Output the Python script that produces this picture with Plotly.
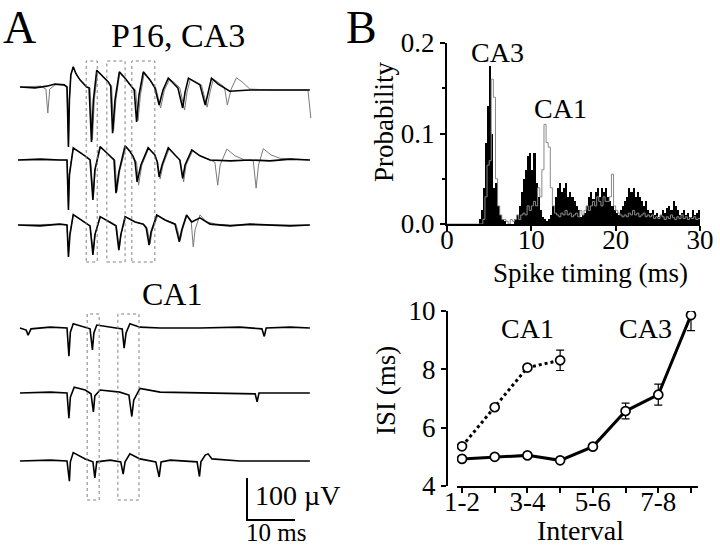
import plotly.graph_objects as go

W, H = 720, 546
FONT = "Liberation Serif"

# ---------------- Panel B (top): spike timing histogram ----------------
BIN_WIDTH_MS = 0.25
CA3_PROB = [
    0, 0, 0, 0,  0, 0, 0, 0,  0, 0, 0, 0,  0, 0, 0, 0.005,
    0.015, 0.04, 0.09, 0.13,  0.175, 0.10, 0.04, 0.045,  0.02, 0.01, 0.005, 0.003,  0, 0, 0, 0,
    0.005, 0.01, 0.02, 0.035,  0.05, 0.06, 0.075, 0.078,  0.06, 0.078, 0.045, 0.03,  0.015, 0.008, 0.005, 0.003,
    0.005, 0.01, 0.02, 0.03,  0.04, 0.045, 0.035, 0.04,  0.045, 0.03, 0.035, 0.03,  0.025, 0.02, 0.015, 0.008,
    0.01, 0.012, 0.02, 0.03,  0.035, 0.028, 0.035, 0.04,  0.03, 0.04, 0.035, 0.04,  0.03, 0.025, 0.02, 0.015,
    0.012, 0.01, 0.015, 0.02,  0.025, 0.03, 0.04, 0.035,  0.04, 0.03, 0.035, 0.03,  0.025, 0.02, 0.025, 0.015,
    0.012, 0.015, 0.01, 0.012,  0.008, 0.01, 0.015, 0.012,  0.018, 0.02, 0.015, 0.025,  0.02, 0.015, 0.01, 0.012,
    0.015, 0.01, 0.012, 0.008,  0.015, 0.01, 0.012, 0.015,
]
CA1_PROB = [
    0, 0, 0, 0,  0, 0, 0, 0,  0, 0, 0, 0,  0, 0, 0, 0,
    0, 0.005, 0.03, 0.065,  0.07, 0.16, 0.14, 0.05,  0.02, 0.01, 0.005, 0.005,  0.003, 0, 0.005, 0.003,
    0.005, 0.01, 0.005, 0.01,  0.012, 0.01, 0.02, 0.015,  0.02, 0.025, 0.02, 0.04,  0.03, 0.06, 0.11, 0.09,
    0.085, 0.04, 0.02, 0.012,  0.01, 0.008, 0.012, 0.01,  0.015, 0.01, 0.012, 0.008,  0.01, 0.012, 0.008, 0.015,
    0.01, 0.015, 0.02, 0.015,  0.02, 0.025, 0.02, 0.03,  0.025, 0.02, 0.03, 0.025,  0.025, 0.03, 0.055, 0.02,
    0.015, 0.012, 0.01, 0.008,  0.01, 0.008, 0.012, 0.01,  0.015, 0.01, 0.012, 0.008,  0.01, 0.012, 0.008, 0.01,
    0.008, 0.01, 0.006, 0.008,  0.006, 0.01, 0.008, 0.005,  0.008, 0.006, 0.01, 0.007,  0.005, 0.008, 0.006, 0.01,
    0.006, 0.008, 0.005, 0.007,  0.006, 0.008, 0.005, 0.006,
]
HIST_X_TICKS = [0, 10, 20, 30]
HIST_Y_TICKS = [0.0, 0.1, 0.2]
HIST_Y_TICKTEXT = ["0.0", "0.1", "0.2"]

# ---------------- Panel B (bottom): ISI ----------------
INTERVAL_LABELS = ["1-2", "2-3", "3-4", "4-5", "5-6", "6-7", "7-8", "8-9"]
CA3_ISI = [4.93, 5.00, 5.05, 4.88, 5.35, 6.57, 7.13, 9.86]
CA3_ISI_ERR = [0.04, 0.04, 0.04, 0.04, 0.06, 0.27, 0.36, 0.53]
CA1_ISI = [5.36, 6.70, 8.06, 8.31]
CA1_ISI_ERR = [0.05, 0.06, 0.06, 0.35]
ISI_Y_TICKS = [4, 6, 8, 10]

# ---------------- Panel A: field potential sweeps (ms, µV rel. baseline) ----------------
CA3_1_BLACK_T = [0.2, 3.3, 5.8, 7.5, 9.4, 10.0, 10.3, 10.5, 10.8, 11.3, 11.9, 12.7, 14.1, 14.6, 15.1, 15.5, 16.2, 17.3, 18.6, 19.1,
                 19.5, 20.0, 20.9, 22.1, 23.5, 24.0, 24.5, 25.0, 25.9, 27.3, 28.3, 29.2, 30.0, 31.1, 31.9, 33.1, 34.1, 34.6, 35.3, 36.7,
                 37.7, 38.8, 39.4, 40.1, 41.5, 42.9, 43.9, 48.1, 52.3, 56.5, 60.6]
CA3_1_BLACK_V = [0, -2, 2, 7, 5, 0, -143, -31, 29, 48, 31, 17, 0, -2, -131, -31, 40, 26, 12, 2,
                 -110, -31, 36, 21, 0, -7, -83, -19, 36, 17, -2, -43, -7, 21, 12, -2, -50, -12, 21, 12,
                 5, -43, -12, 21, 7, -2, -10, -7, -7, -7, -7]
CA3_1_GRAY_T = [0.2, 4.5, 5.6, 6.0, 6.4, 7.5, 9.4, 10.0, 10.3, 10.5, 10.8, 11.3, 11.9, 12.7, 14.1, 14.8, 15.3, 15.7, 16.4, 17.3,
                18.6, 19.3, 19.7, 20.2, 21.0, 22.1, 23.5, 24.3, 24.8, 25.3, 26.1, 27.3, 28.5, 29.5, 30.3, 31.4, 32.2, 33.5, 34.5, 35.0,
                35.7, 36.9, 38.0, 39.2, 39.8, 40.5, 41.9, 42.8, 43.4, 44.2, 45.3, 46.5, 48.1, 52.3, 56.5, 60.2, 60.8]
CA3_1_GRAY_V = [0, 2, -5, -62, -5, 5, 5, 0, -140, -30, 29, 46, 31, 17, 0, -2, -125, -30, 38, 26,
                12, 2, -105, -30, 34, 21, 0, -7, -80, -19, 34, 17, -2, -50, -7, 19, 12, -2, -55, -12,
                19, 12, 5, -48, -12, 19, 7, 0, -43, -5, 22, 12, -5, -7, -7, -7, -74]

CA3_2_BLACK_T = [-0.2, 4.4, 8.5, 10.0, 10.3, 10.5, 11.3, 12.7, 14.1, 14.8, 15.4, 15.8, 16.9, 18.1, 19.3, 19.8, 20.2, 20.8, 22.1, 23.1,
                 23.8, 24.2, 24.6, 25.4, 26.9, 28.3, 28.8, 29.2, 29.8, 31.1, 32.5, 33.5, 34.1, 34.6, 36.0, 37.7, 39.8, 44.0, 48.1, 52.3,
                 56.5, 60.6]
CA3_2_BLACK_V = [0, 2, 0, 0, -119, -36, 29, 19, 7, 0, -95, -24, 32, 19, 5, 0, -79, -29, 34, 21,
                 8, -5, -52, -12, 29, 12, -5, -40, -12, 29, 12, 0, -44, -12, 24, 10, 0, -2, 0, -2,
                 2, 0]
CA3_2_GRAY_T = [-0.2, 8.5, 10.0, 10.3, 10.5, 11.3, 12.7, 14.1, 14.9, 15.5, 15.9, 17.0, 18.1, 19.3, 20.0, 20.4, 21.0, 22.3, 23.8, 24.5,
                24.9, 25.6, 27.0, 28.3, 28.9, 29.4, 30.0, 31.3, 32.5, 33.6, 34.3, 34.8, 36.2, 37.7, 39.8, 40.8, 41.4, 41.9, 43.3, 45.0,
                47.0, 48.8, 49.4, 49.9, 50.9, 52.5, 54.4, 60.6]
CA3_2_GRAY_V = [0, 0, 0, -110, -30, 27, 19, 7, 0, -85, -20, 30, 19, 5, 0, -75, -25, 32, 8, -5,
                -60, -12, 27, 12, -5, -45, -12, 27, 12, 0, -52, -12, 22, 10, 0, -5, -60, -12, 26, 10,
                0, -2, -67, -12, 27, 12, 4, 0]

CA3_3_BLACK_T = [-0.2, 4.4, 8.5, 10.0, 10.3, 10.6, 11.3, 12.7, 14.1, 14.8, 15.4, 15.8, 16.9, 18.1, 19.3, 20.2, 20.8, 21.2, 22.1, 24.2,
                 25.9, 26.5, 27.1, 27.5, 28.7, 30.4, 32.5, 33.4, 33.9, 34.9, 36.0, 37.7, 39.8, 44.0, 48.1, 52.3, 56.5, 60.6]
CA3_3_BLACK_V = [0, -2, 2, 0, -76, -24, 25, 14, 4, -2, -71, -24, 20, 12, 6, -2, -60, -24, 20, 7,
                 2, -7, -48, -17, 24, 12, 2, -40, -12, 24, 7, 17, 2, -2, 2, 0, -2, 0]
CA3_3_GRAY_T = [-0.2, 8.5, 10.0, 10.3, 10.6, 11.3, 12.7, 14.1, 14.8, 15.5, 15.9, 17.0, 19.3, 20.3, 20.9, 21.3, 22.3, 24.2, 26.0, 26.7,
                27.3, 27.7, 28.9, 30.6, 32.7, 33.6, 34.1, 35.0, 35.9, 36.3, 36.7, 37.7, 39.0, 41.0, 44.0, 60.6]
CA3_3_GRAY_V = [0, 2, 0, -70, -20, 24, 14, 4, -2, -65, -20, 19, 6, -2, -55, -20, 19, 7, 2, -7,
                -45, -15, 22, 12, 2, -36, -10, 22, 5, -52, -10, 24, 8, 2, 0, 0]

CA1_1_T = [0.2, 1.5, 1.9, 2.5, 6.5, 10.0, 10.4, 10.7, 11.3, 12.7, 14.8, 15.3, 15.6, 16.2, 19.0, 21.5, 21.9, 22.3, 23.1, 25.2,
           29.4, 37.7, 46.0, 50.6, 51.1, 51.5, 56.5, 60.6]
CA1_1_V = [0, -5, -17, -2, 2, 0, -67, -10, 10, 5, -2, -52, -12, 7, 2, -2, -48, -12, 10, 2,
           0, 0, 2, -2, -20, 0, 2, 0]
CA1_2_T = [0.2, 6.5, 10.0, 10.4, 10.7, 11.5, 13.8, 15.0, 15.5, 15.8, 16.9, 21.0, 22.9, 23.5, 23.9, 25.2, 29.4, 37.7, 49.2, 49.6,
           50.0, 60.6]
CA1_2_V = [0, 2, 0, -60, -10, 14, 7, -2, -45, -7, 7, 2, -5, -56, -17, 11, 2, 0, -2, -21,
           0, 0]
CA1_3_T = [0.2, 6.5, 10.0, 10.5, 10.7, 11.3, 13.8, 15.4, 15.8, 16.2, 19.0, 21.2, 21.7, 22.1, 23.1, 25.2, 28.5, 29.2, 29.6, 31.5,
           37.1, 37.6, 37.9, 38.8, 39.4, 40.2, 46.0, 60.6]
CA1_3_V = [0, 2, 0, -48, -2, 20, 5, -2, -40, -2, 2, -2, -31, -2, 17, 5, -2, -38, -2, 2,
           -2, -37, -2, 14, 17, 5, 0, 0]

# analysis windows (ms)
CA3_WINDOWS = [(14.0, 16.3), (18.3, 22.1), (23.5, 28.3)]
CA1_WINDOWS = [(14.2, 16.7), (20.6, 25.0)]
SCALE_MS = 10
SCALE_UV = 100

# ---------------- layout constants (pixels -> paper) ----------------
def px(x):
    return x / W


def py(y):
    return 1 - y / H


# Panel A axis: 4.8 px per ms, 0.42 px per µV
A_X_RANGE = [-19 / 4.8, (360 - 19) / 4.8]
A_Y_RANGE = [-H / 0.42, 0]
CA3_OFFSETS = [-87 / 0.42, -160 / 0.42, -225 / 0.42]
CA1_OFFSETS = [-328 / 0.42, -393 / 0.42, -461 / 0.42]
CA3_BOX_V = (-262 / 0.42, -61 / 0.42)
CA1_BOX_V = (-500 / 0.42, -314 / 0.42)
SCALE_ORIGIN = (47.5, -520 / 0.42)

fig = go.Figure()

# --- Panel A traces ---
def add_sweep(t, v, off, color, width):
    fig.add_trace(go.Scatter(x=t, y=[vv + off for vv in v], mode="lines",
                             line=dict(color=color, width=width),
                             xaxis="x3", yaxis="y3", showlegend=False, hoverinfo="skip"))


ca3_rows = [(CA3_1_BLACK_T, CA3_1_BLACK_V, CA3_1_GRAY_T, CA3_1_GRAY_V),
            (CA3_2_BLACK_T, CA3_2_BLACK_V, CA3_2_GRAY_T, CA3_2_GRAY_V),
            (CA3_3_BLACK_T, CA3_3_BLACK_V, CA3_3_GRAY_T, CA3_3_GRAY_V)]
for (bt, bv, gt, gv), off in zip(ca3_rows, CA3_OFFSETS):
    add_sweep(gt, gv, off, "#7a7a7a", 1)
    add_sweep(bt, bv, off, "#000000", 1.6)

for (t, v), off in zip([(CA1_1_T, CA1_1_V), (CA1_2_T, CA1_2_V), (CA1_3_T, CA1_3_V)], CA1_OFFSETS):
    add_sweep(t, v, off, "#000000", 1.6)

shapes = []
for (a, b) in CA3_WINDOWS:
    shapes.append(dict(type="rect", xref="x3", yref="y3", x0=a, x1=b, y0=CA3_BOX_V[0], y1=CA3_BOX_V[1],
                       line=dict(color="#808080", width=1, dash="dot")))
for (a, b) in CA1_WINDOWS:
    shapes.append(dict(type="rect", xref="x3", yref="y3", x0=a, x1=b, y0=CA1_BOX_V[0], y1=CA1_BOX_V[1],
                       line=dict(color="#808080", width=1, dash="dot")))

# scale bar
sx, sy = SCALE_ORIGIN
fig.add_trace(go.Scatter(x=[sx, sx, sx + SCALE_MS], y=[sy + SCALE_UV, sy, sy], mode="lines",
                         line=dict(color="black", width=2), xaxis="x3", yaxis="y3",
                         showlegend=False, hoverinfo="skip"))

# --- Panel B top: histogram ---
centers = [BIN_WIDTH_MS * (i + 0.5) for i in range(len(CA3_PROB))]
edges = [BIN_WIDTH_MS * i for i in range(len(CA1_PROB) + 1)]
fig.add_trace(go.Bar(x=centers, y=CA3_PROB, width=BIN_WIDTH_MS, marker=dict(color="black", line=dict(width=0)),
                     name="CA3", showlegend=False, xaxis="x", yaxis="y"))
fig.add_trace(go.Scatter(x=edges, y=CA1_PROB + [CA1_PROB[-1]], mode="lines", line_shape="hv",
                         line=dict(color="#8a8a8a", width=1), name="CA1", showlegend=False,
                         xaxis="x", yaxis="y"))

# --- Panel B bottom: ISI ---
idx3 = list(range(1, len(CA3_ISI) + 1))
idx1 = list(range(1, len(CA1_ISI) + 1))
marker = dict(symbol="circle", size=9, color="white", line=dict(color="black", width=1.7))
fig.add_trace(go.Scatter(x=idx3, y=CA3_ISI, mode="lines+markers", line=dict(color="black", width=3),
                         marker=marker, error_y=dict(type="data", array=CA3_ISI_ERR, color="black",
                                                     thickness=1.2, width=4),
                         name="CA3", showlegend=False, xaxis="x2", yaxis="y2"))
fig.add_trace(go.Scatter(x=idx1, y=CA1_ISI, mode="lines+markers", line=dict(color="black", width=3, dash="dot"),
                         marker=marker, error_y=dict(type="data", array=CA1_ISI_ERR, color="black",
                                                     thickness=1.2, width=4),
                         name="CA1", showlegend=False, xaxis="x2", yaxis="y2"))

tick_font = dict(family=FONT, size=27, color="black")
axis_common = dict(showline=True, linecolor="black", linewidth=2, ticks="outside", ticklen=5,
                   tickwidth=2, tickcolor="black", showgrid=False, zeroline=False, tickfont=tick_font,
                   automargin=False)

fig.update_layout(
    template="none",
    width=W, height=H, margin=dict(l=0, r=0, t=0, b=0, pad=0, autoexpand=False),
    paper_bgcolor="white", plot_bgcolor="white", bargap=0, showlegend=False,
    xaxis=dict(domain=[px(447), px(700)], range=[0, 30], anchor="y", tickvals=HIST_X_TICKS,
               ticklabelstandoff=-14, **axis_common),
    yaxis=dict(domain=[py(224), py(43)], range=[0, 0.2], anchor="x", tickvals=HIST_Y_TICKS,
               ticktext=HIST_Y_TICKTEXT, minor=dict(dtick=0.05, ticks="outside", ticklen=3, tickcolor="black"),
               **axis_common),
    xaxis2=dict(domain=[px(457), px(698)], range=[0.847, 8.214], anchor="y2",
                tickvals=list(range(1, len(INTERVAL_LABELS) + 1)),
                ticktext=[lab if i % 2 == 0 else "" for i, lab in enumerate(INTERVAL_LABELS)],
                ticklabelstandoff=-14, **axis_common),
    yaxis2=dict(domain=[py(486), py(311)], range=[4, 10], anchor="free", position=px(447),
                tickvals=ISI_Y_TICKS, **axis_common),
    xaxis3=dict(domain=[0, 0.5], range=A_X_RANGE, visible=False, fixedrange=True, automargin=False),
    yaxis3=dict(domain=[0, 1], range=A_Y_RANGE, visible=False, fixedrange=True, anchor="x3", automargin=False),
    shapes=shapes,
)

ann = []
def label(text, x, y, size, xanchor="center", yanchor="middle", xref="paper", yref="paper", angle=0):
    ann.append(dict(text=text, x=x, y=y, xref=xref, yref=yref, xanchor=xanchor, yanchor=yanchor,
                    showarrow=False, textangle=angle, font=dict(family=FONT, size=size, color="black")))

label("A", px(19), 1.0, 46, yanchor="top")
label("B", px(361), 1.0, 46, yanchor="top")
label("P16, CA3", px(178), py(35), 34)
label("CA1", px(172), py(294), 32)
label("100 µV", sx + 1.3, -495 / 0.42, 28, xanchor="left", xref="x3", yref="y3")
label("10 ms", sx + SCALE_MS / 2 + 1.0, -532 / 0.42, 25, xref="x3", yref="y3")
label("CA3", 6.0, 0.19, 28, xref="x", yref="y")
label("CA1", 13.4, 0.128, 28, xref="x", yref="y")
label("CA1", 3.0, 9.4, 28, xref="x2", yref="y2")
label("CA3", 6.6, 9.4, 28, xref="x2", yref="y2")
# axis titles
label("Probability", px(384), py(122), 27, angle=-90)
label("Spike timing (ms)", px(590), py(273), 27)
label("ISI (ms)", px(386), py(391), 27, angle=-90)
label("Interval", px(580), py(530), 28)
fig.update_layout(annotations=ann)

fig.write_html("out.html", config={"displayModeBar": False, "staticPlot": True},
               post_script="document.body.style.margin='0';document.body.style.padding='0';document.body.style.overflow='hidden';")
